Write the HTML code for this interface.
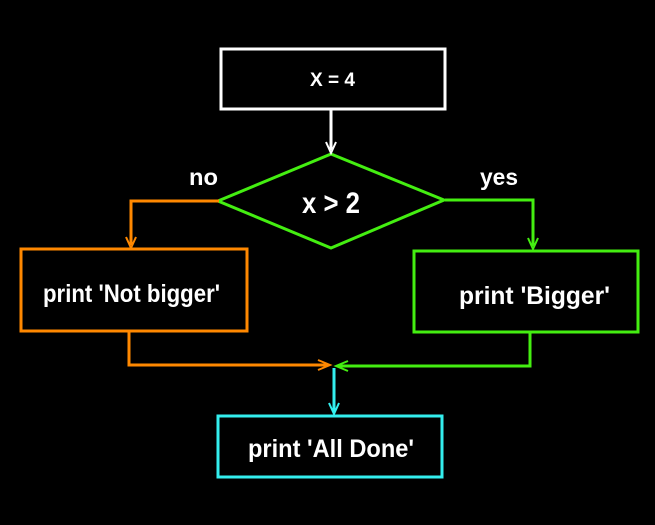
<!DOCTYPE html>
<html><head><style>html,body{margin:0;padding:0;background:#000;}</style></head>
<body>
<svg width="655" height="525" viewBox="0 0 655 525" xmlns="http://www.w3.org/2000/svg" style="display:block">
<rect width="655" height="525" fill="#000"/>
<g fill="none" stroke-width="3">
<rect x="221" y="49" width="224" height="60" stroke="#fff"/>
<polygon points="331,154 444,200 331,248 218,201" stroke="#44ee11"/>
<rect x="21" y="249" width="226" height="82" stroke="#ff8800"/>
<rect x="414" y="251" width="224" height="81" stroke="#44ee11"/>
<rect x="218" y="416" width="224" height="61" stroke="#33eeee"/>
<path d="M331,110 V150" stroke="#fff"/>
<path d="M219,201 H131 V245" stroke="#ff8800"/>
<path d="M445,200 H533 V246" stroke="#44ee11"/>
<path d="M129,332 V365 H328" stroke="#ff8800"/>
<path d="M530,333 V366 H338" stroke="#44ee11"/>
<path d="M334,368 V412" stroke="#33eeee"/>
</g>
<g stroke-width="2" fill="none">
<path d="M326,142 L331,153 L336,142" stroke="#fff"/>
<path d="M126,237 L131,248 L136,237" stroke="#ff8800"/>
<path d="M528,238 L533,249 L538,238" stroke="#44ee11"/>
<path d="M318,360 L330,365 L318,370" stroke="#ff8800"/>
<path d="M348,361 L336,366 L348,371" stroke="#44ee11"/>
<path d="M329,403 L334,414 L339,403" stroke="#33eeee"/>
</g>
<g fill="#fff" font-family="Liberation Sans, sans-serif" font-weight="bold">
<text x="310" y="86" font-size="19" textLength="45" lengthAdjust="spacingAndGlyphs">X = 4</text>
<text x="302" y="213" font-size="30" textLength="58" lengthAdjust="spacingAndGlyphs">x &gt; 2</text>
<text x="189" y="185" font-size="23" textLength="29" lengthAdjust="spacingAndGlyphs">no</text>
<text x="480" y="185" font-size="23" textLength="38" lengthAdjust="spacingAndGlyphs">yes</text>
<text x="43" y="302" font-size="25" textLength="177" lengthAdjust="spacingAndGlyphs">print 'Not bigger'</text>
<text x="459" y="304" font-size="25" textLength="151" lengthAdjust="spacingAndGlyphs">print 'Bigger'</text>
<text x="248" y="457" font-size="25" textLength="166" lengthAdjust="spacingAndGlyphs">print 'All Done'</text>
</g>
</svg>
</body></html>
